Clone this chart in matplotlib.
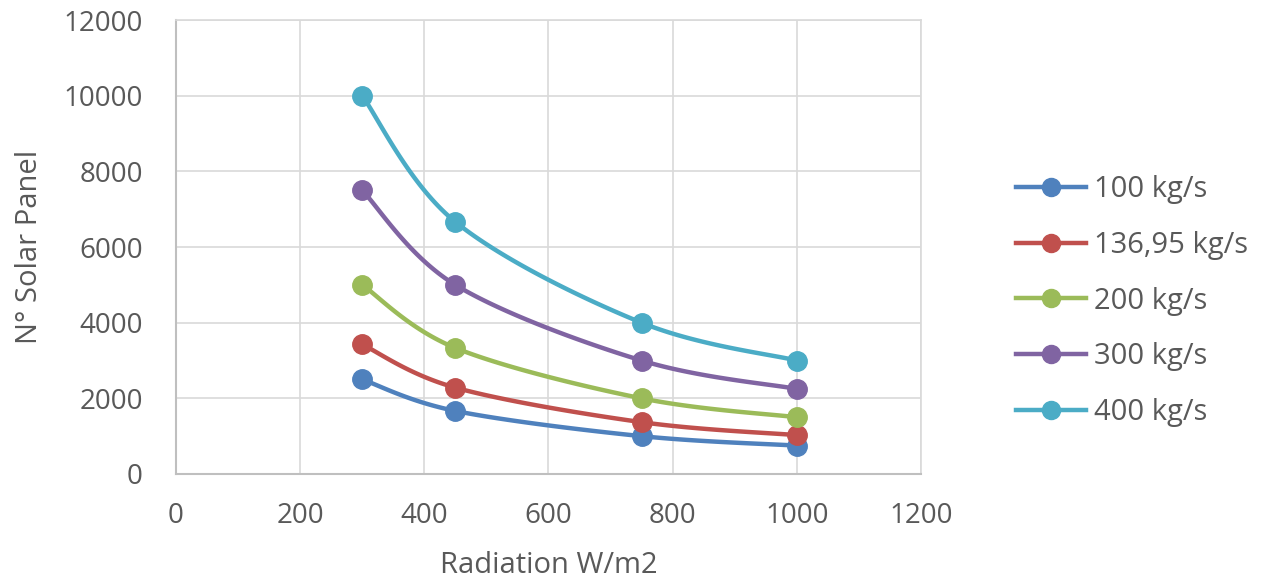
import numpy as np
import matplotlib.pyplot as plt

plt.rcParams['font.family'] = ['Open Sans', 'DejaVu Sans']

radiation = [300, 450, 750, 1000]
flow_labels = ['100 kg/s', '136,95 kg/s', '200 kg/s', '300 kg/s', '400 kg/s']
panels_100 = [2500, 1667, 1000, 750]
panels_137 = [3424, 2283, 1370, 1027]
panels_200 = [5000, 3333, 2000, 1500]
panels_300 = [7500, 5000, 3000, 2250]
panels_400 = [10000, 6667, 4000, 3000]
series = [panels_100, panels_137, panels_200, panels_300, panels_400]
colors = ['#4F81BD', '#C0504D', '#9BBB59', '#8064A2', '#4BACC6']
text_col = '#595959'


def smooth(x, y, n=40):
    # Excel-style smoothed line: Catmull-Rom bezier between the points
    x = np.asarray(x, float)
    y = np.asarray(y, float)
    px = np.concatenate([[x[0]], x, [x[-1]]])
    py = np.concatenate([[y[0]], y, [y[-1]]])
    xs, ys = [], []
    t = np.linspace(0, 1, n)
    for i in range(1, len(px) - 2):
        p0 = np.array([px[i], py[i]])
        p3 = np.array([px[i + 1], py[i + 1]])
        p1 = p0 + (np.array([px[i + 1], py[i + 1]]) - np.array([px[i - 1], py[i - 1]])) / 6
        p2 = p3 - (np.array([px[i + 2], py[i + 2]]) - np.array([px[i], py[i]])) / 6
        b = ((1 - t) ** 3)[:, None] * p0 + (3 * (1 - t) ** 2 * t)[:, None] * p1 \
            + (3 * (1 - t) * t ** 2)[:, None] * p2 + (t ** 3)[:, None] * p3
        xs.extend(b[:, 0])
        ys.extend(b[:, 1])
    return xs, ys


fig = plt.figure(figsize=(12.69, 5.78), dpi=100)
ax = fig.add_axes([0.1387, 0.180, 0.587, 0.785])

for vals, lab, c in zip(series, flow_labels, colors):
    sx, sy = smooth(radiation, vals)
    ax.plot(sx, sy, color=c, lw=3.2, solid_capstyle='round', zorder=3)
    ax.plot(radiation, vals, 'o', color=c, ms=14, zorder=4)
    ax.plot([], [], '-o', color=c, lw=3.2, ms=13, label=lab)

ax.set_xlim(0, 1200)
ax.set_ylim(0, 12000)
ax.set_xticks(np.arange(0, 1201, 200))
ax.set_yticks(np.arange(0, 12001, 2000))
ax.grid(True, color='#D9D9D9', lw=1.2)
ax.set_axisbelow(True)
for s in ['top', 'right']:
    ax.spines[s].set_color('#D9D9D9')
    ax.spines[s].set_linewidth(1.2)
for s in ['left', 'bottom']:
    ax.spines[s].set_color('#BFBFBF')
    ax.spines[s].set_linewidth(1.5)
ax.tick_params(length=0, labelsize=20, colors=text_col)
ax.tick_params(axis='x', pad=20)
ax.tick_params(axis='y', pad=24)

ax.set_xlabel('Radiation W/m2', fontsize=21, color=text_col, labelpad=15)
ax.set_ylabel('N° Solar Panel', fontsize=21, color=text_col, labelpad=14)

ax.legend(loc='center left', bbox_to_anchor=(1.093, 0.381), frameon=False,
          fontsize=21, labelcolor=text_col, handlelength=2.4, labelspacing=0.92,
          handletextpad=0.25)

fig.savefig('out.png', dpi=100)
